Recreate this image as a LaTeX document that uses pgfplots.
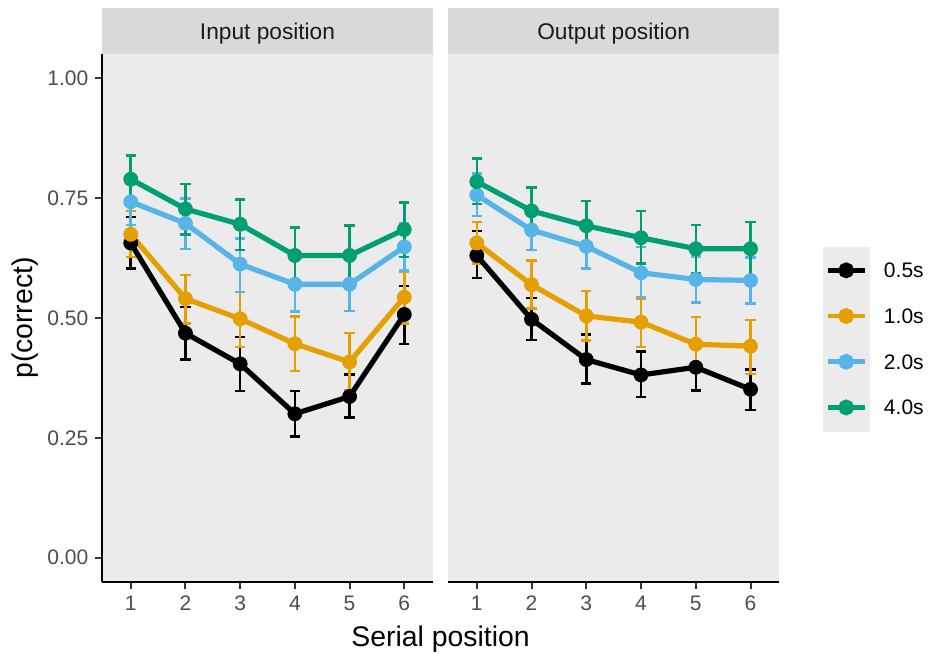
\documentclass[border=0pt]{standalone}
\usepackage{fontspec}
\setmainfont{Liberation Sans}
\usepackage{pgfplots}
\usepackage{pgfplotstable}
\pgfplotsset{compat=1.18}
\definecolor{panelbg}{HTML}{EBEBEB}
\definecolor{stripbg}{HTML}{D9D9D9}
\definecolor{tickcol}{HTML}{333333}
\definecolor{labcol}{HTML}{4D4D4D}
\definecolor{cA}{HTML}{000000}
\definecolor{cB}{HTML}{E69F00}
\definecolor{cC}{HTML}{56B4E9}
\definecolor{cD}{HTML}{009E73}

% Input position: x y err+ err-
\pgfplotstableread{
x y ep em
1 0.656 0.054 0.053
2 0.468 0.055 0.055
3 0.404 0.056 0.057
4 0.300 0.047 0.047
5 0.336 0.046 0.044
6 0.507 0.059 0.062
}\inA
\pgfplotstableread{
x y ep em
1 0.674 0.049 0.047
2 0.540 0.049 0.052
3 0.498 0.056 0.059
4 0.446 0.057 0.057
5 0.408 0.060 0.058
6 0.543 0.053 0.055
}\inB
\pgfplotstableread{
x y ep em
1 0.742 0.048 0.048
2 0.697 0.052 0.053
3 0.612 0.053 0.058
4 0.570 0.057 0.057
5 0.570 0.056 0.056
6 0.648 0.049 0.049
}\inC
\pgfplotstableread{
x y ep em
1 0.789 0.049 0.047
2 0.727 0.052 0.053
3 0.695 0.052 0.054
4 0.630 0.058 0.059
5 0.630 0.062 0.060
6 0.684 0.056 0.057
}\inD
% Output position
\pgfplotstableread{
x y ep em
1 0.630 0.051 0.047
2 0.497 0.044 0.043
3 0.413 0.052 0.050
4 0.381 0.049 0.046
5 0.397 0.049 0.048
6 0.351 0.041 0.043
}\outA
\pgfplotstableread{
x y ep em
1 0.656 0.044 0.043
2 0.569 0.051 0.050
3 0.504 0.052 0.051
4 0.491 0.049 0.052
5 0.445 0.057 0.055
6 0.441 0.055 0.058
}\outB
\pgfplotstableread{
x y ep em
1 0.756 0.045 0.044
2 0.683 0.042 0.042
3 0.649 0.046 0.046
4 0.594 0.054 0.051
5 0.580 0.048 0.048
6 0.578 0.048 0.048
}\outC
\pgfplotstableread{
x y ep em
1 0.784 0.048 0.047
2 0.723 0.049 0.047
3 0.692 0.052 0.050
4 0.667 0.056 0.054
5 0.644 0.050 0.052
6 0.644 0.056 0.059
}\outD

\pgfplotsset{
  panel/.style={
    scale only axis, width=165.2pt, height=263.85pt,
    xmin=0.48, xmax=6.52, ymin=-0.05, ymax=1.05,
    axis background/.style={fill=panelbg},
    axis x line*=bottom,
    axis line style={line width=1pt, -, black},
    xtick={1,2,3,4,5,6},
    tick align=outside, major tick length=3.5pt,
    tick style={color=tickcol, line width=1pt},
    ticklabel style={font=\fontsize{10.5}{12}\selectfont, text=labcol},
    /pgf/number format/assume math mode=true,
    clip=false,
  },
  eb/.style={only marks, mark=none, forget plot, #1,
    error bars/.cd, y dir=both, y explicit,
    error bar style={line width=1.25pt, #1},
    error mark options={rotate=90, mark size=2.6pt, line width=1.25pt, #1}},
  ln/.style={no marks, forget plot, line width=2.6pt, #1},
  pt/.style={only marks, forget plot, mark=*, mark size=3.5pt, #1, mark options={draw=none, fill=#1}},
  lg/.style={#1, line width=2.3pt, mark=*, mark size=2.8pt, mark options={draw=none, fill=#1}},
}
\newcommand{\drawseries}[4]{%
  \addplot[eb=cA] table[x=x,y=y,y error plus=ep,y error minus=em]{#1};
  \addplot[eb=cB] table[x=x,y=y,y error plus=ep,y error minus=em]{#2};
  \addplot[eb=cC] table[x=x,y=y,y error plus=ep,y error minus=em]{#3};
  \addplot[eb=cD] table[x=x,y=y,y error plus=ep,y error minus=em]{#4};
  \addplot[ln=cA] table[x=x,y=y]{#1};
  \addplot[ln=cB] table[x=x,y=y]{#2};
  \addplot[ln=cC] table[x=x,y=y]{#3};
  \addplot[ln=cD] table[x=x,y=y]{#4};
  \addplot[pt=cA] table[x=x,y=y]{#1};
  \addplot[pt=cB] table[x=x,y=y]{#2};
  \addplot[pt=cC] table[x=x,y=y]{#3};
  \addplot[pt=cD] table[x=x,y=y]{#4};
}

\begin{document}
\begin{tikzpicture}
\useasboundingbox (0,0) rectangle (464.5pt,326.5pt);
% legend key background
\fill[panelbg] (411.5pt,110.5pt) rectangle (435pt,203pt);

\begin{axis}[panel, at={(51.15pt,35.65pt)}, anchor=south west,
  axis y line*=left,
  ytick={0,0.25,0.5,0.75,1},
  yticklabel style={/pgf/number format/.cd, fixed, fixed zerofill, precision=2},
]
\drawseries{\inA}{\inB}{\inC}{\inD}
\fill[stripbg] (rel axis cs:0,1) rectangle ([yshift=23pt]rel axis cs:1,1);
\node[font=\fontsize{11.35}{13}\selectfont, text={rgb,255:red,26;green,26;blue,26}] at ([yshift=10pt]rel axis cs:0.5,1) {Input position};
\end{axis}

\begin{axis}[panel, at={(224.15pt,35.65pt)}, anchor=south west,
  width=165.35pt,
  axis y line=none,
  legend style={at={(axis description cs:1.139,0.605)}, anchor=north west,
    draw=none, fill=none, inner sep=0pt, row sep=15.35pt,
    font=\fontsize{10.5}{12}\selectfont,
    nodes={inner sep=0pt, text height=7.5pt, text depth=0pt},
    /tikz/every odd column/.style={column sep=8.5pt}},
  legend cell align=left,
  legend image code/.code={\draw[mark repeat=2, mark phase=2, #1] plot coordinates {(0pt,0pt) (9.25pt,0pt) (18.5pt,0pt)};},
]
\drawseries{\outA}{\outB}{\outC}{\outD}
\fill[stripbg] (rel axis cs:0,1) rectangle ([yshift=23pt]rel axis cs:1,1);
\node[font=\fontsize{11.35}{13}\selectfont, text={rgb,255:red,26;green,26;blue,26}] at ([yshift=10pt]rel axis cs:0.5,1) {Output position};
\addlegendimage{lg=cA}
\addlegendentry{0.5s}
\addlegendimage{lg=cB}
\addlegendentry{1.0s}
\addlegendimage{lg=cC}
\addlegendentry{2.0s}
\addlegendimage{lg=cD}
\addlegendentry{4.0s}
\end{axis}

\node[rotate=90, font=\fontsize{14.2}{16}\selectfont] at (12.5pt,167.5pt) {p(correct)};
\node[anchor=base, font=\fontsize{14.2}{16}\selectfont] at (220.25pt,3.5pt) {Serial position};
\end{tikzpicture}
\end{document}
